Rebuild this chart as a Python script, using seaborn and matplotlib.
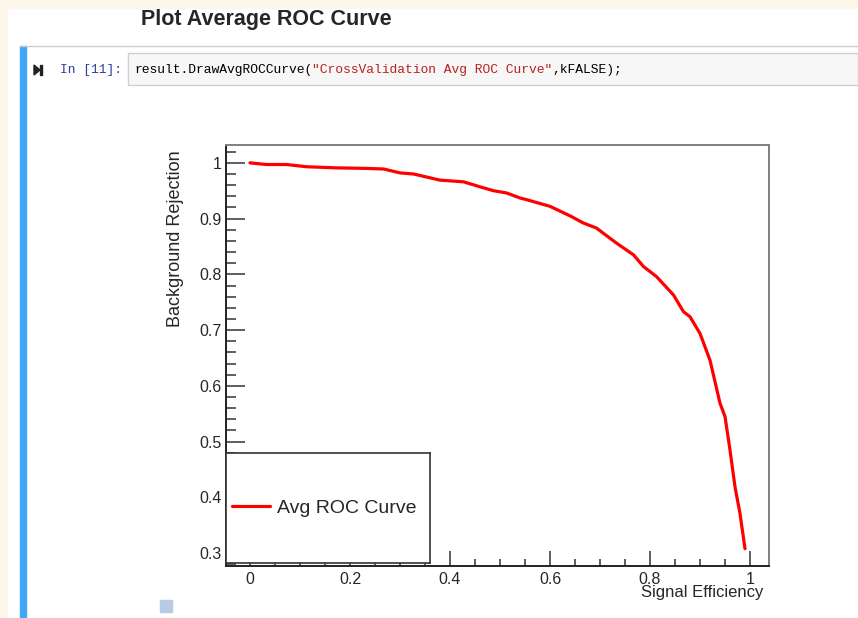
import numpy as np
import pandas as pd
import matplotlib
matplotlib.use('Agg')
import matplotlib.pyplot as plt
from matplotlib.patches import Rectangle, Polygon
from matplotlib.ticker import MultipleLocator
import seaborn as sns

sig_eff = [0.0, 0.033, 0.073, 0.113, 0.173, 0.233, 0.267, 0.3, 0.327, 0.38, 0.427, 0.46,
           0.487, 0.513, 0.54, 0.553, 0.6, 0.64, 0.667, 0.693, 0.733, 0.767, 0.787, 0.813,
           0.847, 0.867, 0.88, 0.9, 0.92, 0.94, 0.95, 0.96, 0.97, 0.98, 0.99]
bkg_rej = [1.0, 0.997, 0.997, 0.993, 0.991, 0.990, 0.989, 0.982, 0.980, 0.969, 0.966, 0.957,
           0.950, 0.946, 0.937, 0.934, 0.922, 0.905, 0.892, 0.883, 0.856, 0.835, 0.814, 0.796,
           0.763, 0.733, 0.724, 0.694, 0.646, 0.569, 0.545, 0.485, 0.419, 0.371, 0.308]
curve_label = 'Avg ROC Curve'
x_label = 'Signal Efficiency'
y_label = 'Background Rejection'

df = pd.DataFrame({'eff': sig_eff, 'rej': bkg_rej})

sns.set_style('ticks')
plt.rcParams['font.family'] = ['Liberation Sans', 'DejaVu Sans']

W, H = 858, 618
fig = plt.figure(figsize=(W/100, H/100), dpi=100)

# fundo do notebook (em pixels)
bg = fig.add_axes([0, 0, 1, 1], zorder=0)
bg.set_xlim(0, W); bg.set_ylim(H, 0); bg.axis('off')
bg.add_patch(Rectangle((0, 0), W, H, color='white'))
bg.add_patch(Rectangle((0, 0), W, 8, color='#fdf6ea'))
bg.add_patch(Rectangle((0, 0), 7, H, color='#fdf6ea'))
bg.plot([20, W], [46, 46], color='#cccccc', lw=1)
bg.add_patch(Rectangle((20, 46), 6, H-46, color='#42a5f5'))
bg.add_patch(Rectangle((128, 53), W-128, 32, facecolor='#f7f7f7', edgecolor='#cfcfcf', lw=1))
bg.text(141, 20, 'Plot Average ROC Curve', fontsize=15.5, fontweight='bold', va='center', ha='left')
bg.add_patch(Polygon([[34, 65], [34, 75], [40, 70]], closed=True, color='#222222'))
bg.add_patch(Rectangle((40, 65), 2, 10, color='#222222'))
bg.text(60, 70, 'In [11]:', family='Liberation Mono', fontsize=9.4, color='#303f9f', va='center')

# codigo: cada pedaco comeca onde o anterior termina
pieces = [('result.DrawAvgROCCurve(', 'black'),
          ('"CrossValidation Avg ROC Curve"', '#ba2121'),
          (',kFALSE);', 'black')]
renderer = fig.canvas.get_renderer()
xpos = 134
for s, c in pieces:
    t = bg.text(xpos, 70, s, family='Liberation Mono', fontsize=9.4, color=c, va='center')
    bb = t.get_window_extent(renderer=renderer)
    xpos = xpos + bb.width
bg.add_patch(Rectangle((160, 600), 12, 12, color='#b7cbe3'))

# grafico principal
ax = fig.add_axes([226/W, 1-566/H, 543/W, 421/H], zorder=2)
sns.lineplot(data=df, x='eff', y='rej', color='red', linewidth=2.3, ax=ax,
             label=curve_label, sort=False)
handles, labels = ax.get_legend_handles_labels()
ax.get_legend().remove()

ax.set_xlim(-0.048, 1.038)
ax.set_ylim(0.277, 1.032)
ax.xaxis.set_minor_locator(MultipleLocator(0.05))
ax.yaxis.set_minor_locator(MultipleLocator(0.02))
ax.set_xticks([0, 0.2, 0.4, 0.6, 0.8, 1.0])
ax.set_xticklabels(['0', '0.2', '0.4', '0.6', '0.8', '1'])
ax.set_yticks([0.3, 0.4, 0.5, 0.6, 0.7, 0.8, 0.9, 1.0])
ax.set_yticklabels(['0.3', '0.4', '0.5', '0.6', '0.7', '0.8', '0.9', '1'])
ax.tick_params(axis='y', which='major', direction='in', length=14, width=1.1, color='#333333',
               labelsize=11.5, pad=3)
ax.tick_params(axis='y', which='minor', direction='in', length=7, width=1.1, color='#333333')
ax.tick_params(axis='x', which='major', direction='in', length=11, width=1.1, color='#333333',
               labelsize=11.5, pad=4)
ax.tick_params(axis='x', which='minor', direction='in', length=5, width=1.1, color='#333333')
for side in ['left', 'bottom']:
    ax.spines[side].set_color('#222222')
    ax.spines[side].set_linewidth(1.4)
for side in ['top', 'right']:
    ax.spines[side].set_color('#808080')
    ax.spines[side].set_linewidth(1.4)

ax.set_xlabel(x_label, fontsize=12, loc='right')
ax.xaxis.set_label_coords(0.989, -0.045)
ax.set_ylabel(y_label, fontsize=13, loc='top')
ax.yaxis.set_label_coords(-0.077, 0.988)

# caixa da legenda
lax = fig.add_axes([226/W, 1-563/H, 204/W, 110/H], zorder=3)
lax.set_xticks([]); lax.set_yticks([])
for sp in lax.spines.values():
    sp.set_color('#333333'); sp.set_linewidth(1.2)
lax.legend(handles, labels, loc='center left', frameon=False, fontsize=14,
           handlelength=1.96, handletextpad=0.36, borderpad=0.31, borderaxespad=0)

fig.savefig('out.png', dpi=100)
